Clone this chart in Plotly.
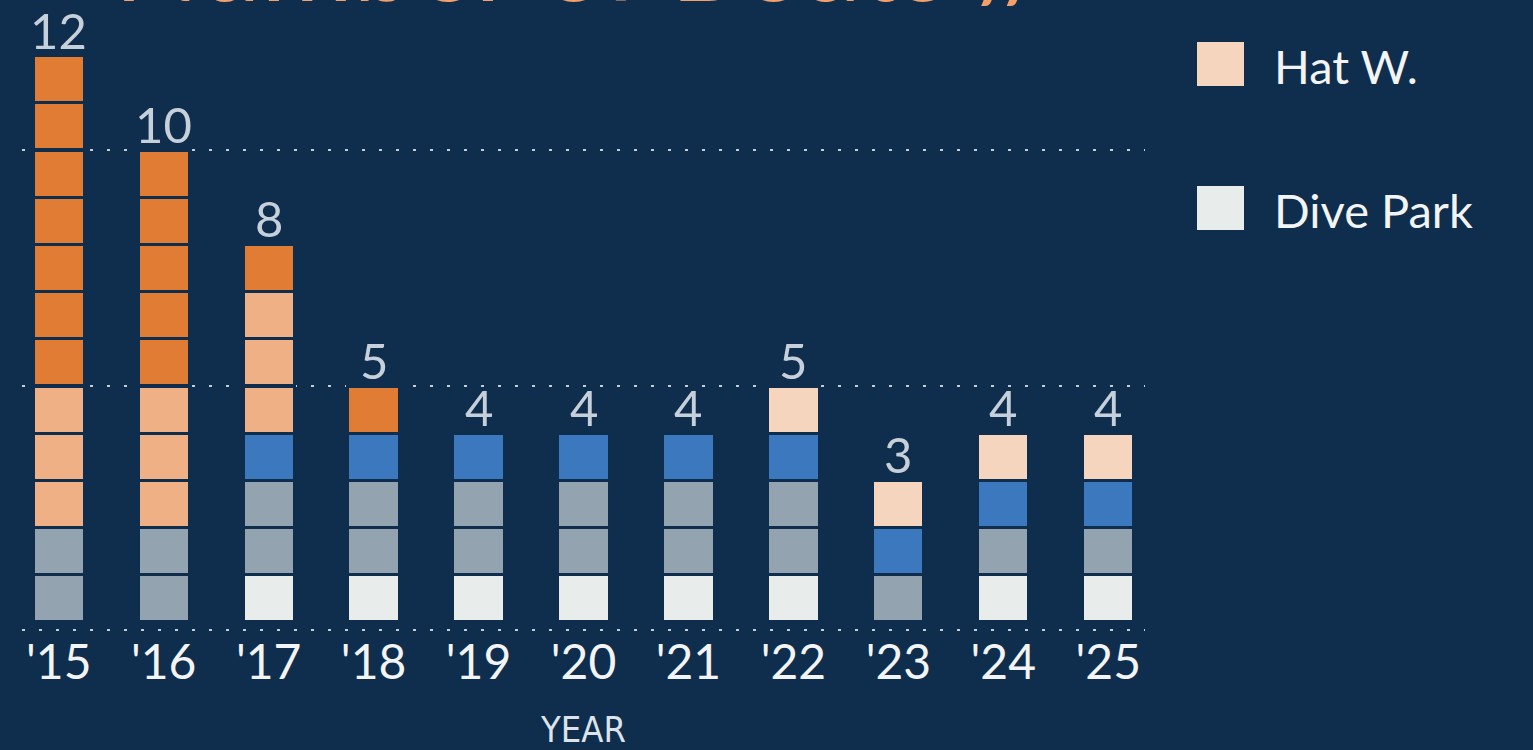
import plotly.graph_objects as go

# ---------------- data ----------------
years = ["'15", "'16", "'17", "'18", "'19", "'20", "'21", "'22", "'23", "'24", "'25"]

# unit counts per year, stacked bottom -> top
dive_park    = [0, 0, 1, 1, 1, 1, 1, 1, 0, 1, 1]
group_gray   = [2, 2, 2, 2, 2, 2, 2, 2, 1, 1, 1]
group_blue   = [0, 0, 1, 1, 1, 1, 1, 1, 1, 1, 1]
hat_w        = [0, 0, 0, 0, 0, 0, 0, 1, 1, 1, 1]
group_peach  = [3, 3, 3, 0, 0, 0, 0, 0, 0, 0, 0]
group_orange = [7, 5, 1, 1, 0, 0, 0, 0, 0, 0, 0]

series_names = ["Dive Park", "Group B", "Group C", "Hat W.", "Group E", "Group F"]
series_values = [dive_park, group_gray, group_blue, hat_w, group_peach, group_orange]
series_colors = ["#E8ECEB", "#94A3B0", "#3B78BD", "#F6D5BF", "#EFB085", "#E17C34"]

legend_names = ["Hat W.", "Dive Park"]

title_text = "Number of Boats //"
x_title = "YEAR"

# ---------------- style ----------------
BG = "#0F2D4D"
W, H = 1533, 750
ML, MR, MT, MB = 22, 388, 0, 120
DOT = "3px,14px"
GRID_COLOR = "#C3CBD4"
NUM_FONT = "Lato, sans-serif"
COND_FONT = "DejaVu Sans Condensed, Lato, sans-serif"

totals = [sum(v[i] for v in series_values) for i in range(len(years))]

fig = go.Figure()

# one bar segment per unit so each unit renders as a separate square
for name, vals, col in zip(series_names, series_values, series_colors):
    for k in range(max(vals)):
        fig.add_trace(go.Bar(
            x=years,
            y=[1 if v > k else None for v in vals],
            name=name,
            marker=dict(color=col, line=dict(color=BG, width=3.2)),
            width=0.49,
            showlegend=False,
            hovertemplate=name + " %{x}<extra></extra>",
        ))

plot_w = W - ML - MR
plot_h = H - MT - MB


def px_x(px):
    return (px - ML) / plot_w


def px_y(py):
    return (H - MB - py) / plot_h


shapes = [dict(type="line", xref="x domain", yref="y domain", x0=0, x1=1, y0=0, y1=0,
               line=dict(color=GRID_COLOR, width=2, dash=DOT), layer="below")]
annotations = []

# totals above each stack
for yr, t in zip(years, totals):
    annotations.append(dict(x=yr, y=t, xref="x", yref="y", text=str(t), showarrow=False,
                            xanchor="center", yanchor="bottom", yshift=-5,
                            font=dict(family=NUM_FONT, size=49, color="#C6D0DB")))

# legend (large square swatches)
color_of = dict(zip(series_names, series_colors))
for i, nm in enumerate(legend_names):
    cy = 64 + i * 144
    shapes.append(dict(type="rect", xref="paper", yref="paper",
                       x0=px_x(1197), x1=px_x(1244), y0=px_y(cy - 22), y1=px_y(cy + 22),
                       fillcolor=color_of[nm], line=dict(width=0)))
    annotations.append(dict(xref="paper", yref="paper", x=px_x(1272), y=px_y(cy + 2),
                            xanchor="left", yanchor="middle", showarrow=False, text=nm,
                            font=dict(family="Lato", size=47, color="#F2F4F6")))

# title (runs off the top of the frame)
annotations.append(dict(xref="paper", yref="paper", x=px_x(112), y=px_y(27),
                        xanchor="left", yanchor="bottom", showarrow=False, text=title_text,
                        font=dict(family="Lato", size=112, color="#F59F69")))

fig.update_layout(
    width=W, height=H,
    margin=dict(l=ML, r=MR, t=MT, b=MB, pad=0),
    paper_bgcolor=BG, plot_bgcolor=BG,
    barmode="stack", bargap=0.5,
    showlegend=False,
    shapes=shapes, annotations=annotations,
    xaxis=dict(
        type="category", range=[-0.35, 10.35],
        showgrid=False, zeroline=False, showline=False, ticks="",
        tickfont=dict(family=NUM_FONT, size=48, color="#F2F4F6"),
        title=dict(text=x_title, standoff=28,
                   font=dict(family=COND_FONT, size=36, color="#DDE3EA")),
    ),
    yaxis=dict(
        range=[-0.17, 13.18], tickvals=[5, 10], showticklabels=False,
        showgrid=True, gridcolor=GRID_COLOR, gridwidth=2, griddash=DOT,
        zeroline=False, showline=False,
    ),
)

fig.write_html("out.html", config={"displayModeBar": False},
               post_script="document.body.style.margin='0';document.body.style.overflow='hidden';")
